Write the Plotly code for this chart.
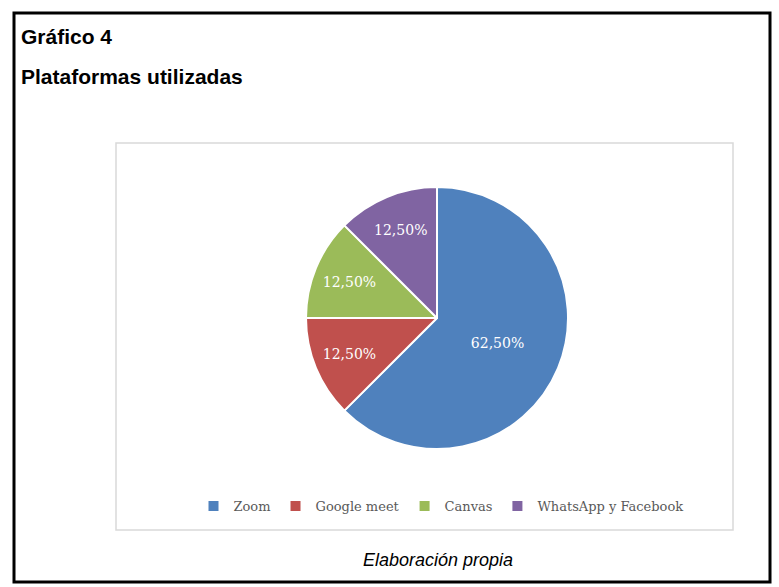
import plotly.graph_objects as go

W, H = 779, 587
labels = ["Zoom", "Google meet", "Canvas", "WhatsApp y Facebook"]
values = [62.5, 12.5, 12.5, 12.5]
colors = ["#4F81BD", "#C0504D", "#9BBB59", "#8064A2"]

def px(x): return x / W
def py(y): return 1 - y / H

cx, cy, r = 437, 318, 131

fig = go.Figure(go.Pie(
    labels=labels, values=values, sort=False, direction="clockwise", rotation=0,
    marker=dict(colors=colors, line=dict(color="white", width=2)),
    texttemplate="%{percent:.2%}", textposition="inside",
    insidetextorientation="horizontal",
    textfont=dict(family="DejaVu Serif", size=14, color="white"),
    domain=dict(x=[px(cx - r), px(cx + r)], y=[py(cy + r), py(cy - r)]),
    hoverinfo="label+percent",
))

fig.update_layout(
    width=W, height=H, margin=dict(l=0, r=0, t=0, b=0),
    paper_bgcolor="white", plot_bgcolor="white",
    separators=",.",
    showlegend=True,
    legend=dict(orientation="h", x=px(441), y=py(506), xanchor="center", yanchor="middle",
                font=dict(family="DejaVu Serif", size=13, color="#595959"),
                itemwidth=30, tracegroupgap=0),
    shapes=[
        dict(type="rect", xref="paper", yref="paper", x0=px(14), x1=px(770), y0=py(582), y1=py(13),
             line=dict(color="black", width=3)),
        dict(type="rect", xref="paper", yref="paper", x0=px(116), x1=px(733), y0=py(530), y1=py(143),
             line=dict(color="#D9D9D9", width=1.5)),
    ],
    annotations=[
        dict(text="<b>Gráfico 4</b>", x=px(19), y=py(37), xref="paper", yref="paper",
             xanchor="left", yanchor="middle", showarrow=False,
             font=dict(family="Liberation Sans", size=21, color="black")),
        dict(text="<b>Plataformas utilizadas</b>", x=px(19), y=py(76), xref="paper", yref="paper",
             xanchor="left", yanchor="middle", showarrow=False,
             font=dict(family="Liberation Sans", size=21, color="black")),
        dict(text="<i>Elaboración propia</i>", x=px(438), y=py(560), xref="paper", yref="paper",
             xanchor="center", yanchor="middle", showarrow=False,
             font=dict(family="Liberation Sans", size=18, color="black")),
    ],
)

fig.write_html("out.html")
